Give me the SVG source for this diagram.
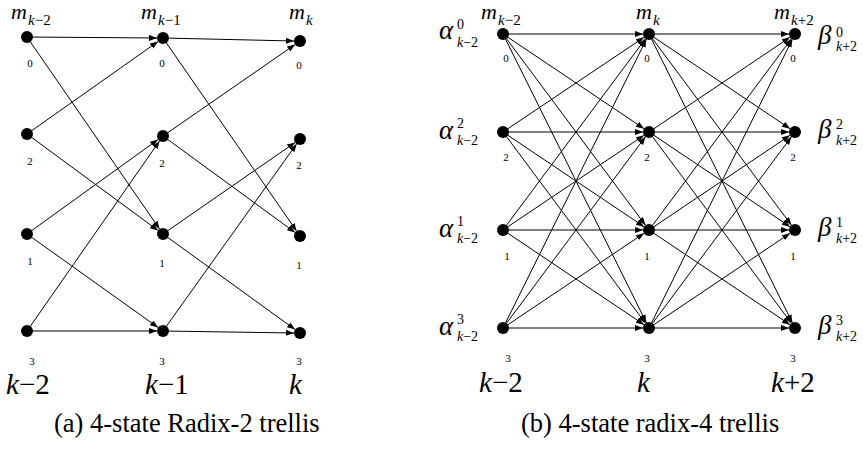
<svg xmlns="http://www.w3.org/2000/svg" width="863" height="452" viewBox="0 0 863 452">
<style>
text{font-family:"Liberation Serif","Times New Roman",serif;fill:#000}
.it{font-style:italic}
.m{font-size:22px;font-style:italic}
.sub{font-size:15px}
.sm{font-size:14px}
.d{font-size:11px;text-anchor:middle}
.big{font-size:29px}
.cap{font-size:26.5px}
.gk{font-size:27px;font-style:italic}
line{stroke:#000;stroke-width:1;marker-end:url(#ah)}
circle{fill:#000}
</style>
<defs>
<marker id="ah" markerUnits="userSpaceOnUse" markerWidth="9" markerHeight="7" refX="8" refY="3" orient="auto">
<path d="M0,0 L8,3 L0,6 z" fill="#000"/>
</marker>
</defs>
<rect width="863" height="452" fill="#fff"/>

<g id="connectors">
<line x1="27" y1="37" x2="157" y2="38"/>
<line x1="27" y1="37" x2="159.6" y2="229.1"/>
<line x1="27" y1="134" x2="158.1" y2="41.5"/>
<line x1="27" y1="134" x2="158.1" y2="230.5"/>
<line x1="27" y1="234" x2="158.1" y2="139.5"/>
<line x1="27" y1="234" x2="158.1" y2="327.5"/>
<line x1="27" y1="331" x2="159.6" y2="140.9"/>
<line x1="27" y1="331" x2="157" y2="331"/>
<line x1="163" y1="38" x2="294" y2="41"/>
<line x1="163" y1="38" x2="296.6" y2="231.1"/>
<line x1="163" y1="136" x2="295.1" y2="44.5"/>
<line x1="163" y1="136" x2="295.1" y2="232.5"/>
<line x1="163" y1="234" x2="295.1" y2="142.5"/>
<line x1="163" y1="234" x2="295.1" y2="329.5"/>
<line x1="163" y1="331" x2="296.6" y2="143.9"/>
<line x1="163" y1="331" x2="294" y2="333"/>
<line x1="503" y1="34" x2="643" y2="34"/>
<line x1="503" y1="34" x2="644.02" y2="128.66"/>
<line x1="503" y1="34" x2="645.42" y2="225.19"/>
<line x1="503" y1="34" x2="646.33" y2="322.63"/>
<line x1="503" y1="132" x2="644.02" y2="37.34"/>
<line x1="503" y1="132" x2="643" y2="132"/>
<line x1="503" y1="132" x2="644.02" y2="226.66"/>
<line x1="503" y1="132" x2="645.42" y2="323.19"/>
<line x1="503" y1="230" x2="645.42" y2="38.81"/>
<line x1="503" y1="230" x2="644.02" y2="135.34"/>
<line x1="503" y1="230" x2="643" y2="230"/>
<line x1="503" y1="230" x2="644.02" y2="324.66"/>
<line x1="503" y1="328" x2="646.33" y2="39.37"/>
<line x1="503" y1="328" x2="645.42" y2="136.81"/>
<line x1="503" y1="328" x2="644.02" y2="233.34"/>
<line x1="503" y1="328" x2="643" y2="328"/>
<line x1="649" y1="34" x2="789" y2="34"/>
<line x1="649" y1="34" x2="790.02" y2="128.66"/>
<line x1="649" y1="34" x2="791.42" y2="225.19"/>
<line x1="649" y1="34" x2="792.33" y2="322.63"/>
<line x1="649" y1="132" x2="790.02" y2="37.34"/>
<line x1="649" y1="132" x2="789" y2="132"/>
<line x1="649" y1="132" x2="790.02" y2="226.66"/>
<line x1="649" y1="132" x2="791.42" y2="323.19"/>
<line x1="649" y1="230" x2="791.42" y2="38.81"/>
<line x1="649" y1="230" x2="790.02" y2="135.34"/>
<line x1="649" y1="230" x2="789" y2="230"/>
<line x1="649" y1="230" x2="790.02" y2="324.66"/>
<line x1="649" y1="328" x2="792.33" y2="39.37"/>
<line x1="649" y1="328" x2="791.42" y2="136.81"/>
<line x1="649" y1="328" x2="790.02" y2="233.34"/>
<line x1="649" y1="328" x2="789" y2="328"/>
</g>

<g id="a-c1-s0"><circle cx="27" cy="37" r="6"/><text class="d" x="30" y="67">0</text></g>
<g id="a-c1-s2"><circle cx="27" cy="134" r="6"/><text class="d" x="30" y="165">2</text></g>
<g id="a-c1-s1"><circle cx="27" cy="234" r="6"/><text class="d" x="30" y="265">1</text></g>
<g id="a-c1-s3"><circle cx="27" cy="331" r="6"/><text class="d" x="32" y="365">3</text></g>
<g id="a-c2-s0"><circle cx="163" cy="38" r="6"/><text class="d" x="162" y="67">0</text></g>
<g id="a-c2-s2"><circle cx="163" cy="136" r="6"/><text class="d" x="162" y="167">2</text></g>
<g id="a-c2-s1"><circle cx="163" cy="234" r="6"/><text class="d" x="162" y="267">1</text></g>
<g id="a-c2-s3"><circle cx="163" cy="331" r="6"/><text class="d" x="162" y="365">3</text></g>
<g id="a-c3-s0"><circle cx="300" cy="41" r="6"/><text class="d" x="299" y="69">0</text></g>
<g id="a-c3-s2"><circle cx="300" cy="139" r="6"/><text class="d" x="299" y="169">2</text></g>
<g id="a-c3-s1"><circle cx="300" cy="236" r="6"/><text class="d" x="299" y="269">1</text></g>
<g id="a-c3-s3"><circle cx="300" cy="333" r="6"/><text class="d" x="299" y="365">3</text></g>

<g id="b-c1-s0"><circle cx="503" cy="34" r="6"/><text class="d" x="506" y="62">0</text></g>
<g id="b-c1-s2"><circle cx="503" cy="132" r="6"/><text class="d" x="506" y="161">2</text></g>
<g id="b-c1-s1"><circle cx="503" cy="230" r="6"/><text class="d" x="507" y="260">1</text></g>
<g id="b-c1-s3"><circle cx="503" cy="328" r="6"/><text class="d" x="508" y="362">3</text></g>
<g id="b-c2-s0"><circle cx="649" cy="34" r="6"/><text class="d" x="647" y="62">0</text></g>
<g id="b-c2-s2"><circle cx="649" cy="132" r="6"/><text class="d" x="647" y="161">2</text></g>
<g id="b-c2-s1"><circle cx="649" cy="230" r="6"/><text class="d" x="647" y="260">1</text></g>
<g id="b-c2-s3"><circle cx="649" cy="328" r="6"/><text class="d" x="647" y="362">3</text></g>
<g id="b-c3-s0"><circle cx="795" cy="34" r="6"/><text class="d" x="793" y="62">0</text></g>
<g id="b-c3-s2"><circle cx="795" cy="132" r="6"/><text class="d" x="793" y="161">2</text></g>
<g id="b-c3-s1"><circle cx="795" cy="230" r="6"/><text class="d" x="793" y="260">1</text></g>
<g id="b-c3-s3"><circle cx="795" cy="328" r="6"/><text class="d" x="793" y="362">3</text></g>

<g id="a-top">
<text class="m" x="11" y="19">m</text><text class="sub" x="28" y="25"><tspan class="it">k</tspan>−2</text>
<text class="m" x="141" y="19">m</text><text class="sub" x="158" y="25"><tspan class="it">k</tspan>−1</text>
<text class="m" x="289" y="19">m</text><text class="sub it" x="306" y="25">k</text>
</g>
<g id="b-top">
<text class="m" x="481" y="19">m</text><text class="sub" x="498" y="25"><tspan class="it">k</tspan>−2</text>
<text class="m" x="636" y="19">m</text><text class="sub it" x="653" y="25">k</text>
<text class="m" x="774" y="19">m</text><text class="sub" x="791" y="25"><tspan class="it">k</tspan>+2</text>
</g>
<g id="alpha">
<text class="gk" x="439" y="39">α</text><text class="sm" x="457" y="29">0</text><text class="sm" x="457" y="47"><tspan class="it">k</tspan>−2</text>
<text class="gk" x="439" y="139">α</text><text class="sm" x="457" y="128">2</text><text class="sm" x="457" y="145"><tspan class="it">k</tspan>−2</text>
<text class="gk" x="439" y="237">α</text><text class="sm" x="457" y="226">1</text><text class="sm" x="457" y="243"><tspan class="it">k</tspan>−2</text>
<text class="gk" x="439" y="335">α</text><text class="sm" x="457" y="324">3</text><text class="sm" x="457" y="341"><tspan class="it">k</tspan>−2</text>
</g>
<g id="beta">
<text class="gk" x="818" y="44">β</text><text class="sm" x="836" y="37">0</text><text class="sm" x="836" y="51"><tspan class="it">k</tspan>+2</text>
<text class="gk" x="818" y="138">β</text><text class="sm" x="836" y="129">2</text><text class="sm" x="836" y="145"><tspan class="it">k</tspan>+2</text>
<text class="gk" x="818" y="236">β</text><text class="sm" x="836" y="227">1</text><text class="sm" x="836" y="243"><tspan class="it">k</tspan>+2</text>
<text class="gk" x="818" y="334">β</text><text class="sm" x="836" y="325">3</text><text class="sm" x="836" y="341"><tspan class="it">k</tspan>+2</text>
</g>
<g id="a-time">
<text class="big" x="6" y="394"><tspan class="it">k</tspan>−2</text>
<text class="big" x="145" y="394"><tspan class="it">k</tspan>−1</text>
<text class="big it" x="289" y="394">k</text>
</g>
<g id="b-time">
<text class="big" x="479" y="392"><tspan class="it">k</tspan>−2</text>
<text class="big it" x="637" y="392">k</text>
<text class="big" x="771" y="392"><tspan class="it">k</tspan>+2</text>
</g>
<text class="cap" x="54" y="432">(a) 4-state Radix-2 trellis</text>
<text class="cap" x="521" y="432">(b) 4-state radix-4 trellis</text>
</svg>
